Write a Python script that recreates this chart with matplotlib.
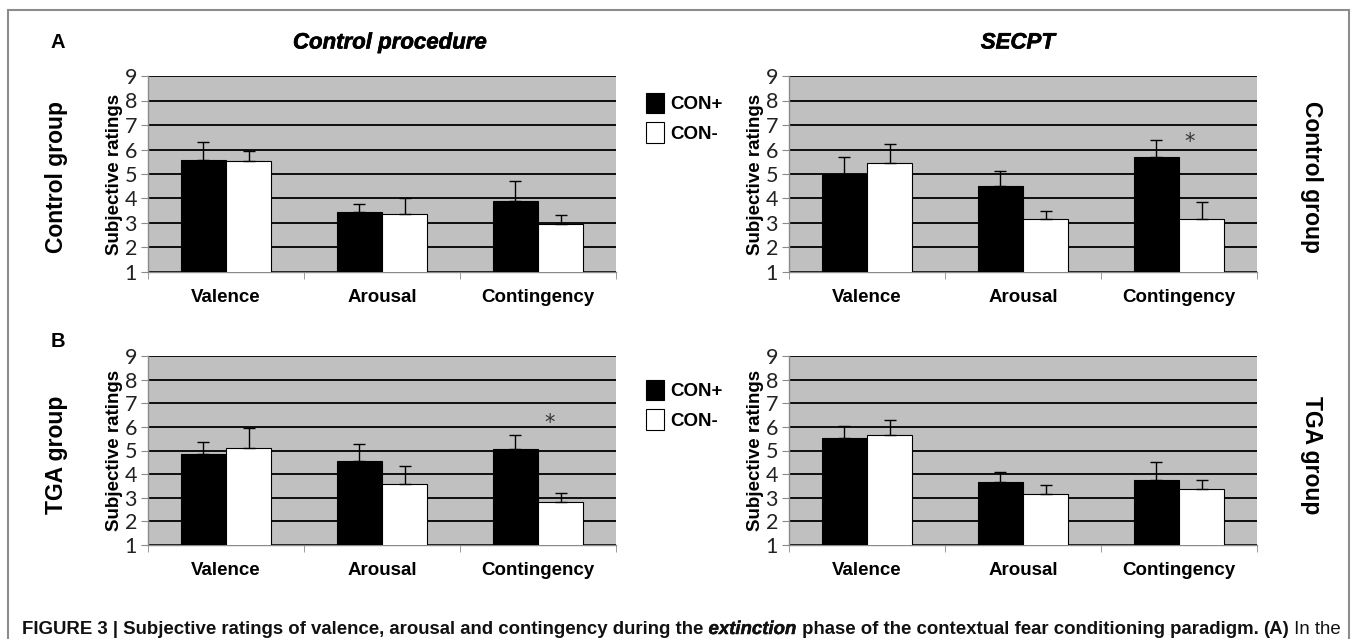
import numpy as np
import matplotlib
matplotlib.use("Agg")
import matplotlib.pyplot as plt
import matplotlib.patheffects as pe
from matplotlib.patches import Patch, Rectangle

W, H = 1357, 639

# categories and rating values
categories = ["Valence", "Arousal", "Contingency"]

# Control group, control procedure
cc_pos = [5.57, 3.43, 3.91]
cc_pos_err = [0.72, 0.34, 0.81]
cc_neg = [5.52, 3.38, 2.95]
cc_neg_err = [0.43, 0.66, 0.39]

# Control group, SECPT
cs_pos = [5.00, 4.53, 5.68]
cs_pos_err = [0.68, 0.61, 0.70]
cs_neg = [5.46, 3.18, 3.18]
cs_neg_err = [0.76, 0.29, 0.67]

# TGA group, control procedure
tc_pos = [4.86, 4.57, 5.07]
tc_pos_err = [0.50, 0.69, 0.59]
tc_neg = [5.11, 3.59, 2.80]
tc_neg_err = [0.86, 0.77, 0.39]

# TGA group, SECPT
ts_pos = [5.52, 3.66, 3.76]
ts_pos_err = [0.52, 0.44, 0.74]
ts_neg = [5.66, 3.14, 3.39]
ts_neg_err = [0.65, 0.38, 0.35]

# significance stars (x, y) per panel
cs_star = (2.07, 6.52)
tc_star = (2.075, 6.36)

# a little extra weight for the bold italic text
heavy = [pe.withStroke(linewidth=0.45, foreground="black")]


def px(x, y):
    return x / W, 1 - y / H


def draw_panel(ax, pos, pos_err, neg, neg_err, star=None):
    x = np.arange(len(categories))
    bw = 0.29
    ax.bar(x - bw / 2, pos, bw, bottom=0, color="black", edgecolor="black", lw=0.8, zorder=3)
    ax.bar(x + bw / 2, neg, bw, bottom=0, color="white", edgecolor="black", lw=0.8, zorder=3)
    ax.errorbar(x - bw / 2, pos, yerr=[np.zeros(3), pos_err], fmt="none",
                ecolor="black", elinewidth=1, capsize=4, capthick=1, zorder=4)
    ax.errorbar(x + bw / 2, neg, yerr=[np.zeros(3), neg_err], fmt="none",
                ecolor="black", elinewidth=1, capsize=4, capthick=1, zorder=4)
    if star:
        ax.text(star[0], star[1] - 0.45, "*", ha="center", va="baseline",
                fontsize=15, color="#333333", zorder=5)

    ax.set_xlim(-0.5, 2.5)
    ax.set_ylim(1, 9)
    ax.set_facecolor("#c0c0c0")
    ax.set_yticks(range(1, 10))
    ax.yaxis.grid(True, color="black", lw=1.3)
    ax.set_axisbelow(True)
    for s in ["top", "right"]:
        ax.spines[s].set_visible(False)
    for s in ["left", "bottom"]:
        ax.spines[s].set_color("#8a8a8a")
        ax.spines[s].set_linewidth(1)
    ax.set_xticks(x)
    ax.set_xticklabels(categories, fontsize=13.5, fontweight="bold", family="Liberation Sans")
    ax.set_xticks([-0.5, 0.5, 1.5, 2.5], minor=True)
    ax.tick_params(axis="x", which="major", length=0, pad=12)
    ax.tick_params(axis="x", which="minor", length=5, color="#8a8a8a")
    ax.tick_params(axis="y", length=5, color="#8a8a8a", pad=3)
    for lab in ax.get_yticklabels():
        lab.set_family("Lato")
        lab.set_fontsize(15.5)
        lab.set_color("#222222")
    ax.set_ylabel("Subjective ratings", fontsize=13.5, fontweight="bold",
                  family="Liberation Sans", labelpad=1)


fig = plt.figure(figsize=(W / 100, H / 100), dpi=100)
fig.patch.set_facecolor("white")

aw = 468 / W
top_h = (272 - 76) / H
bot_h = (545 - 356) / H
ax1 = fig.add_axes([148 / W, 1 - 272 / H, aw, top_h])
ax2 = fig.add_axes([789 / W, 1 - 272 / H, aw, top_h])
ax3 = fig.add_axes([148 / W, 1 - 545 / H, aw, bot_h])
ax4 = fig.add_axes([789 / W, 1 - 545 / H, aw, bot_h])

draw_panel(ax1, cc_pos, cc_pos_err, cc_neg, cc_neg_err)
draw_panel(ax2, cs_pos, cs_pos_err, cs_neg, cs_neg_err, cs_star)
draw_panel(ax3, tc_pos, tc_pos_err, tc_neg, tc_neg_err, tc_star)
draw_panel(ax4, ts_pos, ts_pos_err, ts_neg, ts_neg_err)

# border around the figure panel (runs off the bottom)
fig.patches.append(Rectangle(px(8, 700), (1349 - 8) / W, (700 - 10) / H,
                             transform=fig.transFigure, fill=False,
                             edgecolor="#8c8c8c", lw=1.5))

# titles and side labels
fig.text(*px(390, 43), "Control procedure", ha="center", va="center",
         fontsize=16, fontweight="bold", style="italic", family="Liberation Sans",
         path_effects=heavy)
fig.text(*px(1018, 43), "SECPT", ha="center", va="center",
         fontsize=16, fontweight="bold", style="italic", family="Liberation Sans",
         path_effects=heavy)
fig.text(*px(58, 43), "A", ha="center", va="center", fontsize=14.5, fontweight="bold",
         family="Liberation Sans")
fig.text(*px(58, 342), "B", ha="center", va="center", fontsize=14.5, fontweight="bold",
         family="Liberation Sans")
fig.text(*px(57, 177), "Control group", rotation=90, ha="center", va="center",
         fontsize=16.5, fontweight="bold", family="Liberation Sans")
fig.text(*px(57, 455), "TGA group", rotation=90, ha="center", va="center",
         fontsize=16.5, fontweight="bold", family="Liberation Sans")
fig.text(*px(1311, 177), "Control group", rotation=270, ha="center", va="center",
         fontsize=16.5, fontweight="bold", family="Liberation Sans")
fig.text(*px(1311, 455), "TGA group", rotation=270, ha="center", va="center",
         fontsize=16.5, fontweight="bold", family="Liberation Sans")

# legends
handles = [Patch(facecolor="black", edgecolor="black", lw=0.8),
           Patch(facecolor="white", edgecolor="black", lw=0.8)]
labels = ["CON+", "CON-"]
for ly in (85, 372):
    fig.legend(handles, labels, loc="upper left", bbox_to_anchor=px(638, ly),
               frameon=False, handlelength=1.0, handleheight=1.3, handletextpad=0.3,
               labelspacing=0.5, borderaxespad=0,
               prop={"family": "Liberation Sans", "weight": "bold", "size": 13.5})

# caption at the bottom edge, sized to span the same width as the reference
caption = [
    ("FIGURE 3 | Subjective ratings of valence, arousal and contingency during the ", "bold", "normal"),
    ("extinction", "bold", "italic"),
    (" phase of the contextual fear conditioning paradigm. ", "bold", "normal"),
    ("(A)", "bold", "normal"),
    (" In the", "normal", "normal"),
]
renderer = fig.canvas.get_renderer()


def place_caption(size):
    items = []
    cx = 22
    for txt, wt, st in caption:
        t = fig.text(*px(cx, 638), txt, ha="left", va="bottom", fontsize=size,
                     fontweight=wt, style=st, family="Liberation Sans",
                     color="#111111")
        if st == "italic":
            t.set_path_effects([pe.withStroke(linewidth=0.35, foreground="#111111")])
        cx += t.get_window_extent(renderer=renderer).width
        items.append(t)
    return items, cx


items, end = place_caption(13.5)
size = 13.5 * (1341 - 22) / (end - 22)
for t in items:
    t.remove()
place_caption(size)

fig.savefig("out.png", dpi=100)
